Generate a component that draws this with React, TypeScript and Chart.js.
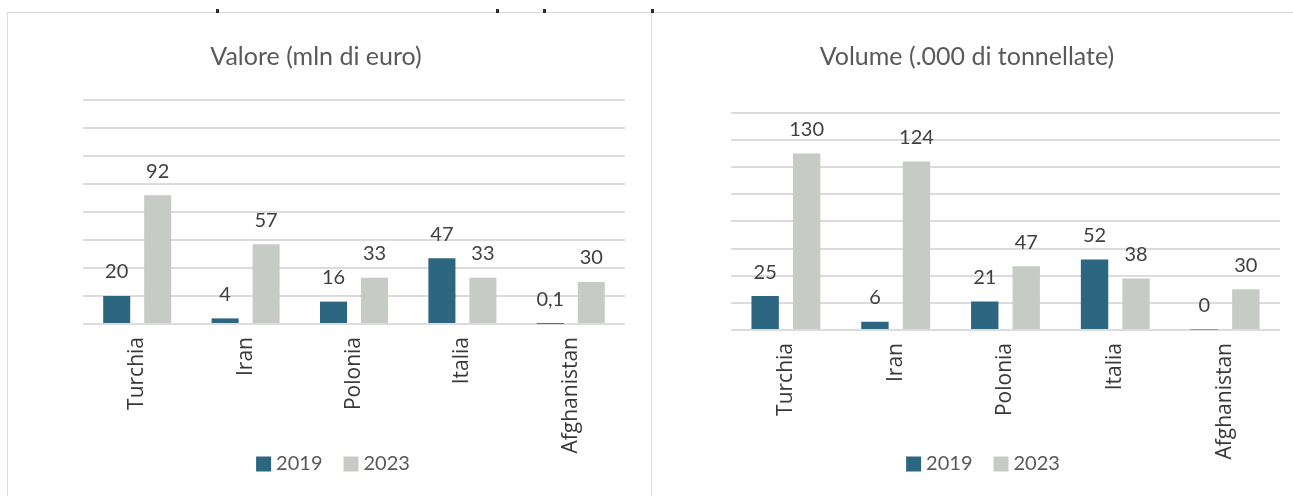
import React, { useEffect, useRef } from "react";
import { Chart, registerables } from "chart.js";

Chart.register(...registerables);

const categories = ["Turchia", "Iran", "Polonia", "Italia", "Afghanistan"];
const seriesNames = ["2019", "2023"];
const valore2019 = [20, 4, 16, 47, 0.1];
const valore2023 = [92, 57, 33, 33, 30];
const volume2019 = [25, 6, 21, 52, 0.4];
const volume2023 = [130, 124, 47, 38, 30];
const valoreTitle = "Valore (mln di euro)";
const volumeTitle = "Volume (.000 di tonnellate)";
const yMin = 0;
const yMax = 160;
const yStep = 20;

const COLOR_2019 = "#2c6681";
const COLOR_2023 = "#c6ccc5";
const GRID = "#dcdcdc";
const TEXT = "#404040";
const TICK = "#383838";
const TITLE = "#595959";

function fmt(v: number, digits: number): string {
  if (Number.isInteger(v)) return String(v);
  if (digits > 0) return v.toFixed(digits).replace(".", ",");
  return String(Math.round(v));
}

function decorPlugin(digits: number, title: string, titleX: number, legendX: number) {
  return {
    id: "decor",
    afterDatasetsDraw(chart: any) {
      const ctx = chart.ctx;
      ctx.save();
      ctx.font = "20px Lato";
      ctx.fillStyle = TEXT;
      ctx.textAlign = "center";
      ctx.textBaseline = "middle";
      chart.data.datasets.forEach((ds: any, i: number) => {
        const meta = chart.getDatasetMeta(i);
        meta.data.forEach((el: any, j: number) => {
          const v = ds.data[j] as number;
          ctx.fillText(fmt(v, digits), el.x, el.y - 24);
        });
      });
      ctx.restore();
    },
    afterDraw(chart: any) {
      const ctx = chart.ctx;
      ctx.save();
      // title
      ctx.font = "25px Lato";
      ctx.fillStyle = TITLE;
      ctx.textAlign = "center";
      ctx.textBaseline = "middle";
      ctx.fillText(title, titleX, 43);
      // legend
      ctx.font = "20px Lato";
      const box = 15;
      const gapBoxText = 5;
      const gapItems = 21;
      const ds = chart.data.datasets;
      const widths = ds.map((d: any) => ctx.measureText(d.label).width);
      let total = 0;
      widths.forEach((w: number, i: number) => {
        total += box + gapBoxText + w + (i < widths.length - 1 ? gapItems : 0);
      });
      let x = legendX - total / 2;
      const cy = 450;
      ctx.textAlign = "left";
      ds.forEach((d: any, i: number) => {
        ctx.fillStyle = d.backgroundColor;
        ctx.fillRect(x, cy - box / 2, box, box);
        x += box + gapBoxText;
        ctx.fillStyle = TITLE;
        ctx.fillText(d.label, x, cy);
        x += widths[i] + gapItems;
      });
      ctx.restore();
    },
  };
}

interface PanelOpts {
  title: string;
  d19: number[];
  d23: number[];
  padLeft: number;
  padRight: number;
  padTop: number;
  xHeight: number;
  digits: number;
  titleX: number;
  legendX: number;
}

function BarPanel(props: PanelOpts & { style: React.CSSProperties; width: number; height: number }) {
  const ref = useRef<HTMLCanvasElement>(null);
  useEffect(() => {
    if (!ref.current) return;
    const chart = new Chart(ref.current, {
      type: "bar",
      data: {
        labels: categories,
        datasets: [
          { label: seriesNames[0], data: props.d19, backgroundColor: COLOR_2019, categoryPercentage: 0.756, barPercentage: 0.66 },
          { label: seriesNames[1], data: props.d23, backgroundColor: COLOR_2023, categoryPercentage: 0.756, barPercentage: 0.66 },
        ],
      },
      options: {
        animation: false,
        responsive: false,
        maintainAspectRatio: false,
        layout: { padding: { left: props.padLeft, right: props.padRight, top: props.padTop, bottom: 0 } },
        plugins: {
          title: { display: false },
          legend: { display: false },
          tooltip: { enabled: false },
        },
        scales: {
          x: {
            grid: { display: false, drawTicks: false },
            border: { display: false },
            ticks: {
              autoSkip: false,
              minRotation: 90,
              maxRotation: 90,
              padding: 13,
              color: TICK,
              font: { family: "'Open Sans'", size: 21 },
            },
            afterFit: (scale: any) => {
              scale.height = props.xHeight;
            },
          },
          y: {
            min: yMin,
            max: yMax,
            ticks: { display: false, stepSize: yStep },
            grid: { color: GRID, lineWidth: 2, drawTicks: false },
            border: { display: false },
            afterFit: (scale: any) => {
              scale.width = 0;
            },
          },
        },
      },
      plugins: [decorPlugin(props.digits, props.title, props.titleX, props.legendX)],
    } as any);
    return () => chart.destroy();
  }, []);
  return (
    <canvas
      ref={ref}
      width={props.width}
      height={props.height}
      style={{ position: "absolute", ...props.style, width: props.width, height: props.height }}
    />
  );
}

const marks = [216, 496, 543, 651];

export default function App() {
  return (
    <div style={{ position: "absolute", left: 0, top: 0, width: 1293, height: 496, background: "#fff", overflow: "hidden" }}>
      <div style={{ position: "absolute", left: 7, top: 12, width: 1286, height: 1, background: GRID }} />
      <div style={{ position: "absolute", left: 7, top: 12, width: 1, height: 484, background: GRID }} />
      <div style={{ position: "absolute", left: 651, top: 12, width: 1, height: 484, background: GRID }} />
      {marks.map((x) => (
        <div key={x} style={{ position: "absolute", left: x, top: 9, width: 3, height: 4, background: "#2a2a2a" }} />
      ))}
      <BarPanel
        style={{ left: 8, top: 14 }}
        width={643}
        height={482}
        title={valoreTitle}
        d19={valore2019}
        d23={valore2023}
        padLeft={75}
        padRight={26}
        padTop={86}
        xHeight={172}
        digits={1}
        titleX={308}
        legendX={325}
      />
      <BarPanel
        style={{ left: 653, top: 14 }}
        width={640}
        height={482}
        title={volumeTitle}
        d19={volume2019}
        d23={volume2023}
        padLeft={78}
        padRight={13}
        padTop={98.7}
        xHeight={166}
        digits={0}
        titleX={314}
        legendX={330}
      />
    </div>
  );
}
